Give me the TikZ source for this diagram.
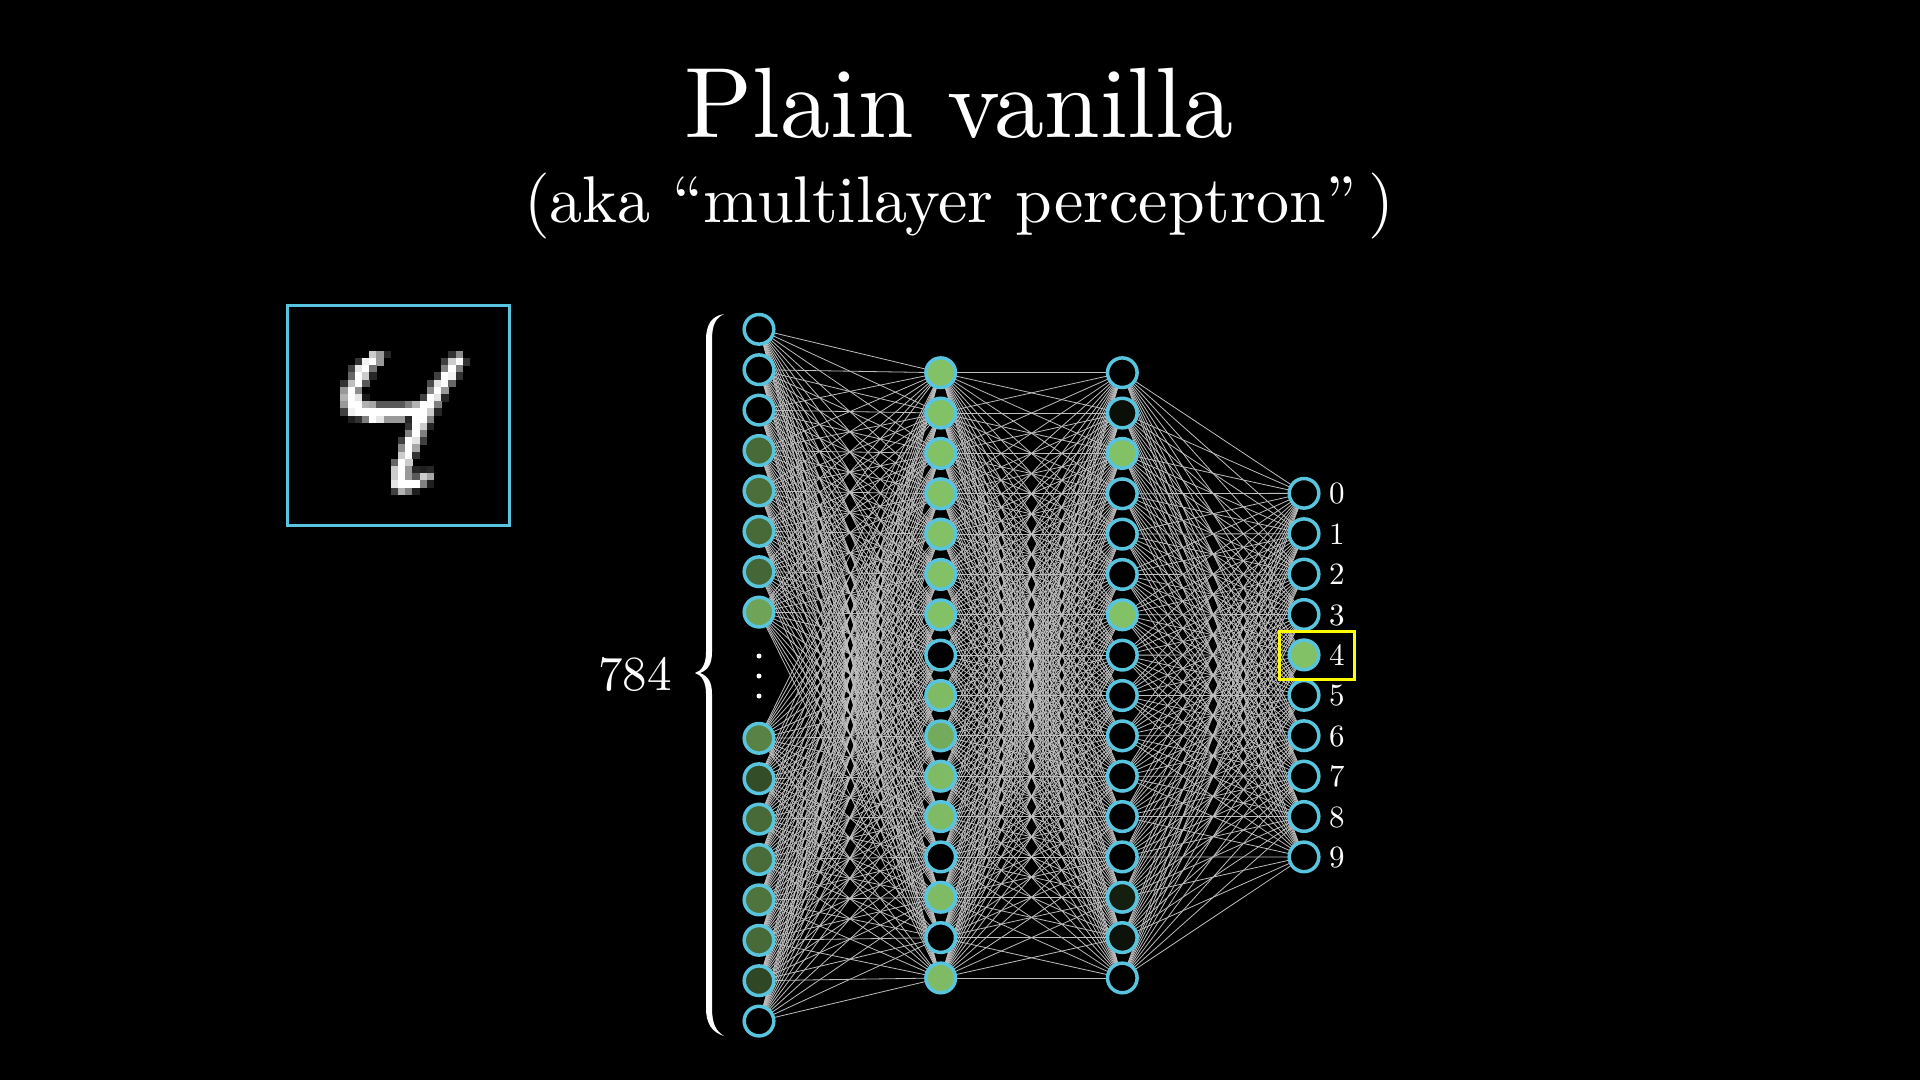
\documentclass[tikz,border=0pt]{standalone}
\usepackage{fontspec}
\setmainfont{lmroman10-regular.otf}
\usetikzlibrary{backgrounds}
\definecolor{nnblue}{HTML}{58C4DD}
\definecolor{nngreen}{HTML}{83C167}
\definecolor{nnyellow}{HTML}{FFFF00}
\definecolor{edgegray}{HTML}{BEBEBE}
\begin{document}
\begin{tikzpicture}[x=1pt,y=-1pt,
  neuron/.style={circle,draw=nnblue,line width=3.5pt,minimum size=29.6pt,inner sep=0pt,fill=black},
  link/.style={draw=edgegray,line width=0.8pt},
  lbl/.style={anchor=base west,inner sep=0pt,text=white,font=\fontsize{31}{31}\selectfont},
  dotnode/.style={circle,fill=white,minimum size=5pt,inner sep=0pt}]
\useasboundingbox (0,0) rectangle (1920,1080);

% title
\node[anchor=base,inner sep=0pt,text=white,font=\fontsize{100}{102}\selectfont] (title) at (959,137) {Plain vanilla};
\node[anchor=base,inner sep=0pt,text=white,font=\fontsize{66}{70}\selectfont] (subtitle) at (959,222) {(aka ``multilayer perceptron''\,)};

% image box
\draw[nnblue,line width=3pt] (287.5,305.5) rectangle (509.5,525.5);
\foreach \j/\i/\g in {
 0/0/80,1/0/60,2/0/15,11/0/20,12/0/55,
 -2/1/20,-1/1/95,0/1/100,1/1/60,10/1/25,11/1/80,12/1/100,13/1/20,
 -3/2/25,-2/2/90,-1/2/100,0/2/45,10/2/50,11/2/100,12/2/50,
 -3/3/40,-2/3/100,-1/3/80,0/3/15,9/3/25,10/3/100,11/3/95,12/3/20,
 -4/4/20,-3/4/75,-2/4/100,-1/4/35,8/4/30,9/4/90,10/4/100,11/4/40,
 -4/5/60,-3/5/100,-2/5/55,8/5/55,9/5/100,10/5/60,
 -4/6/70,-3/6/100,-2/6/90,-1/6/10,7/6/25,8/6/100,9/6/90,10/6/15,
 -4/7/60,-3/7/100,-2/7/100,-1/7/70,0/7/65,1/7/35,2/7/35,3/7/35,4/7/35,5/7/50,6/7/70,7/7/100,8/7/100,9/7/50,
 -4/8/25,-3/8/95,-2/8/100,-1/8/100,0/8/100,1/8/100,2/8/100,3/8/100,4/8/100,5/8/100,6/8/100,7/8/100,8/8/80,9/8/15,
 -3/9/12,-2/9/20,-1/9/50,0/9/100,1/9/90,2/9/60,3/9/60,4/9/60,5/9/15,6/9/100,7/9/100,8/9/50,
 5/10/20,6/10/100,7/10/80,8/10/15,
 5/11/50,6/11/100,7/11/50,
 4/12/25,5/12/100,6/12/90,7/12/25,
 4/13/55,5/13/100,6/13/65,
 4/14/80,5/14/100,6/14/20,
 3/15/40,4/15/100,5/15/80,
 3/16/80,4/16/100,5/16/60,6/16/15,7/16/12,8/16/15,
 3/17/80,4/17/100,5/17/60,6/17/35,7/17/80,8/17/65,
 3/18/90,4/18/100,5/18/100,6/18/100,7/18/50,8/18/12,
 3/19/25,4/19/70,5/19/50,6/19/12}
 \fill[white!\g!black] ({369.3+7.2*\j-0.2},{351+7.2*\i-0.2}) rectangle ++(7.6,7.6);

% input layer
\foreach \k/\c in {1/0,2/0,3/0,4/55,5/57,6/55,7/53,8/85}
  \node[neuron,fill=nngreen!\c!black] (in\k) at (759,{329.3+40.4*(\k-1)}) {};
\foreach \k/\c in {9/68,10/40,11/55,12/56,13/60,14/55,15/37,16/0}
  \node[neuron,fill=nngreen!\c!black] (in\k) at (759,{738.3+40.4*(\k-9)}) {};
\node[dotnode] (d1) at (759,656) {};
\node[dotnode] (d2) at (759,676) {};
\node[dotnode] (d3) at (759,696) {};

% hidden layer 1
\foreach \k/\c in {1/100,2/100,3/100,4/100,5/100,6/100,7/100,8/0,9/97,10/88,11/97,12/97,13/0,14/97,15/0,16/97}
  \node[neuron,fill=nngreen!\c!black] (ha\k) at (940.7,{372.7+40.35*(\k-1)}) {};
% hidden layer 2
\foreach \k/\c in {1/0,2/8,3/100,4/0,5/0,6/0,7/100,8/0,9/0,10/0,11/0,12/0,13/0,14/16,15/10,16/0}
  \node[neuron,fill=nngreen!\c!black] (hb\k) at (1122.3,{372.7+40.35*(\k-1)}) {};
% output layer
\foreach \k/\c in {0/0,1/0,2/0,3/0,4/100,5/0,6/0,7/0,8/0,9/0}{
  \node[neuron,fill=nngreen!\c!black] (o\k) at (1304,{493.3+40.4*\k}) {};
  \node[lbl] (l\k) at (1329,{493.3+40.4*\k+10.5}) {\k};
}
\draw[nnyellow,line width=3pt] (1279.5,631.5) rectangle (1354.5,679.5);

% count and brace
\node[anchor=base,inner sep=0pt,text=white,font=\fontsize{49}{50}\selectfont] (count) at (635,690) {784};
\fill[white] (724,314) .. controls (712,316) and (706,324) .. (706,340) -- (706,652)
  .. controls (706,664) and (702,671) .. (695,673)
  .. controls (702,675) and (706,682) .. (706,694) -- (706,1008)
  .. controls (706,1024) and (712,1032) .. (724,1036)
  .. controls (716,1031) and (712,1024) .. (712,1008) -- (712,694)
  .. controls (712,682) and (708,676) .. (700,673)
  .. controls (708,670) and (712,664) .. (712,652) -- (712,340)
  .. controls (712,324) and (716,318) .. (724,314) -- cycle;

% edges
\begin{scope}[on background layer]
  \fill[black] (0,0) rectangle (1920,1080);
  \foreach \a in {1,...,16}{
    \foreach \b in {1,...,16}{
      \draw[link] (in\a.center) -- (ha\b.center);
      \draw[link] (ha\a.center) -- (hb\b.center);
    }
    \foreach \b in {0,...,9}{
      \draw[link] (hb\a.center) -- (o\b.center);
    }
  }
\end{scope}
\end{tikzpicture}
\end{document}
